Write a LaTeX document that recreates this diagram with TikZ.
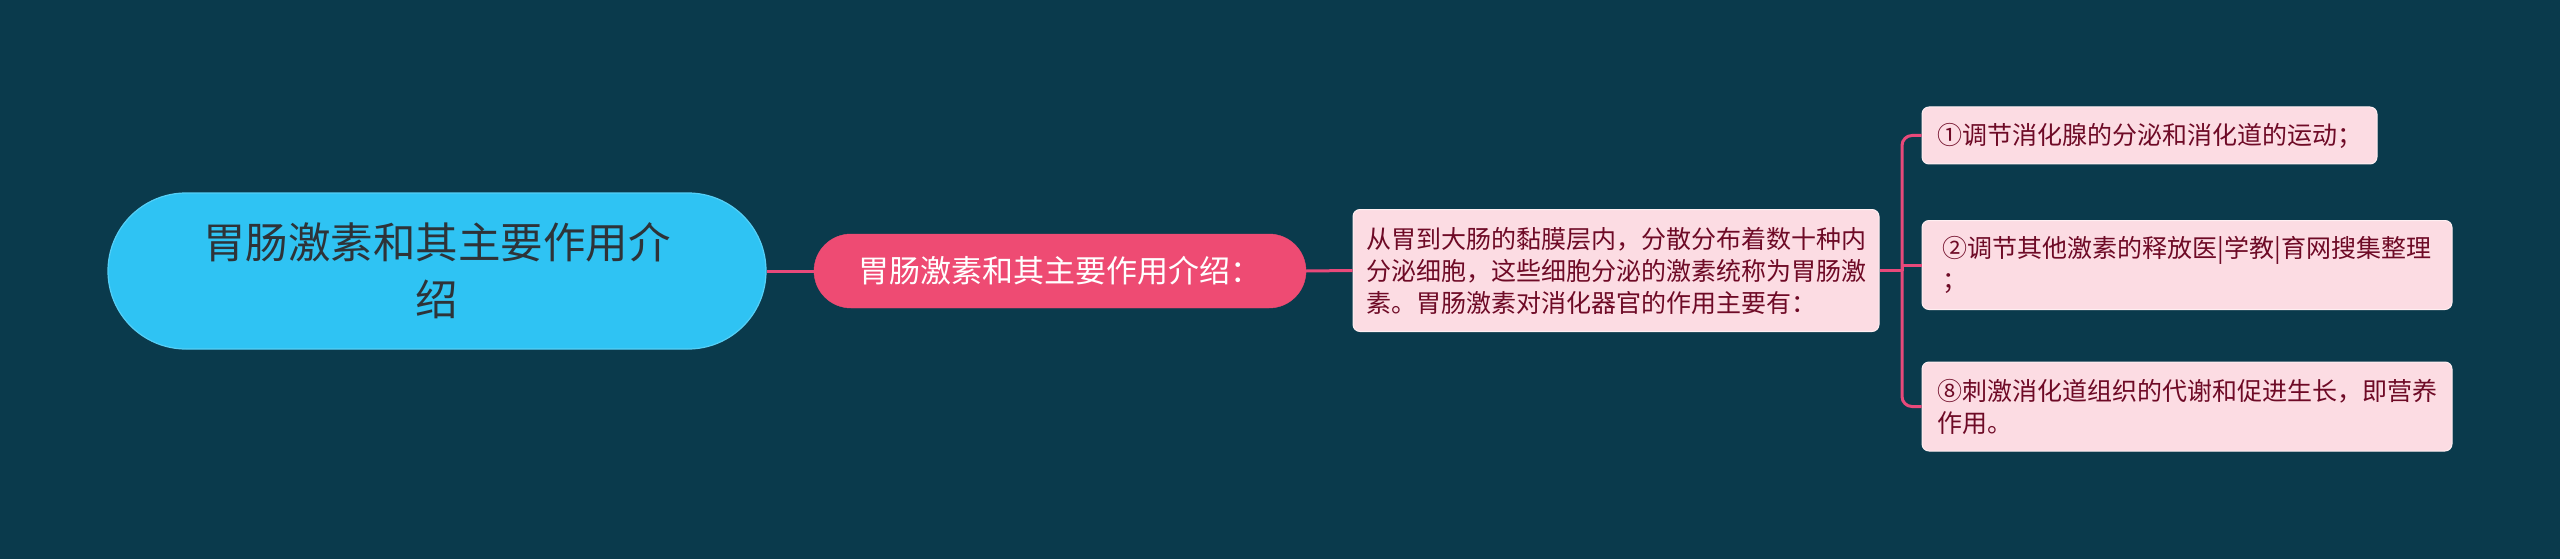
\documentclass[tikz,border=0pt]{standalone}
\usepackage{fontspec}
\setmainfont{Noto Sans CJK SC}
\definecolor{bgc}{HTML}{0A3A4C}
\definecolor{rootc}{HTML}{2FC3F3}
\definecolor{rootb}{HTML}{55CFF6}
\definecolor{roott}{HTML}{2E3338}
\definecolor{subc}{HTML}{EE4B73}
\definecolor{leafc}{HTML}{FCDCE3}
\definecolor{leafb}{HTML}{FFEFF2}
\definecolor{leaft}{HTML}{6E0A26}
\definecolor{linkc}{HTML}{E8497A}
\tikzset{
  rootbox/.style={fill=rootc, draw=rootb, line width=1.2pt, rounded corners=78pt,
    minimum width=658pt, minimum height=156pt, inner sep=0pt, align=center,
    text=roott, font=\fontsize{42.5pt}{57pt}\selectfont},
  subbox/.style={fill=subc, draw=subc, rounded corners=37pt,
    minimum width=492pt, minimum height=74pt, inner sep=0pt,
    text=white, font=\fontsize{31pt}{36pt}\selectfont},
  leafbox/.style={fill=leafc, draw=leafb, line width=1pt, rounded corners=7pt,
    inner sep=0pt, align=left, text=leaft,
    font=\fontsize{25pt}{32pt}\selectfont},
  link/.style={draw=linkc, line width=3pt},
}
\begin{document}
\begin{tikzpicture}[x=1pt, y=-1pt]
\fill[bgc] (0,0) rectangle (2560,559);
\useasboundingbox (0,0) rectangle (2560,559);
\node[rootbox] (root) at (437,271) {胃肠激素和其主要作用介\\绍};
\node[subbox] (sub) at (1060,271) {胃肠激素和其主要作用介绍：};
\node[leafbox, minimum width=526pt, minimum height=122pt] (desc) at (1616,270.5)
  {从胃到大肠的黏膜层内，分散分布着数十种内\\分泌细胞，这些细胞分泌的激素统称为胃肠激\\素。胃肠激素对消化器官的作用主要有：};
\node[leafbox, minimum width=455pt, minimum height=57pt] (l1) at (2149.5,135.5)
  {①调节消化腺的分泌和消化道的运动；};
\node[leafbox, minimum width=530pt, minimum height=89pt] (l2) at (2187,265)
  {②调节其他激素的释放医|学教|育网搜集整理\\；};
\node[leafbox, minimum width=530pt, minimum height=89pt] (l3) at (2187,406.5)
  {⑧刺激消化道组织的代谢和促进生长，即营养\\作用。};
\coordinate (j) at (1902,270.5);
\draw[link] (root.east) -- (sub.west);
\draw[link] (sub.east) -- (desc.west);
\draw[link] (desc.east) -- (j);
\draw[link, rounded corners=10pt] (j) |- (l1.west);
\draw[link, rounded corners=10pt] (j) |- (l3.west);
\draw[link] (j) |- (l2.west);
\end{tikzpicture}
\end{document}
